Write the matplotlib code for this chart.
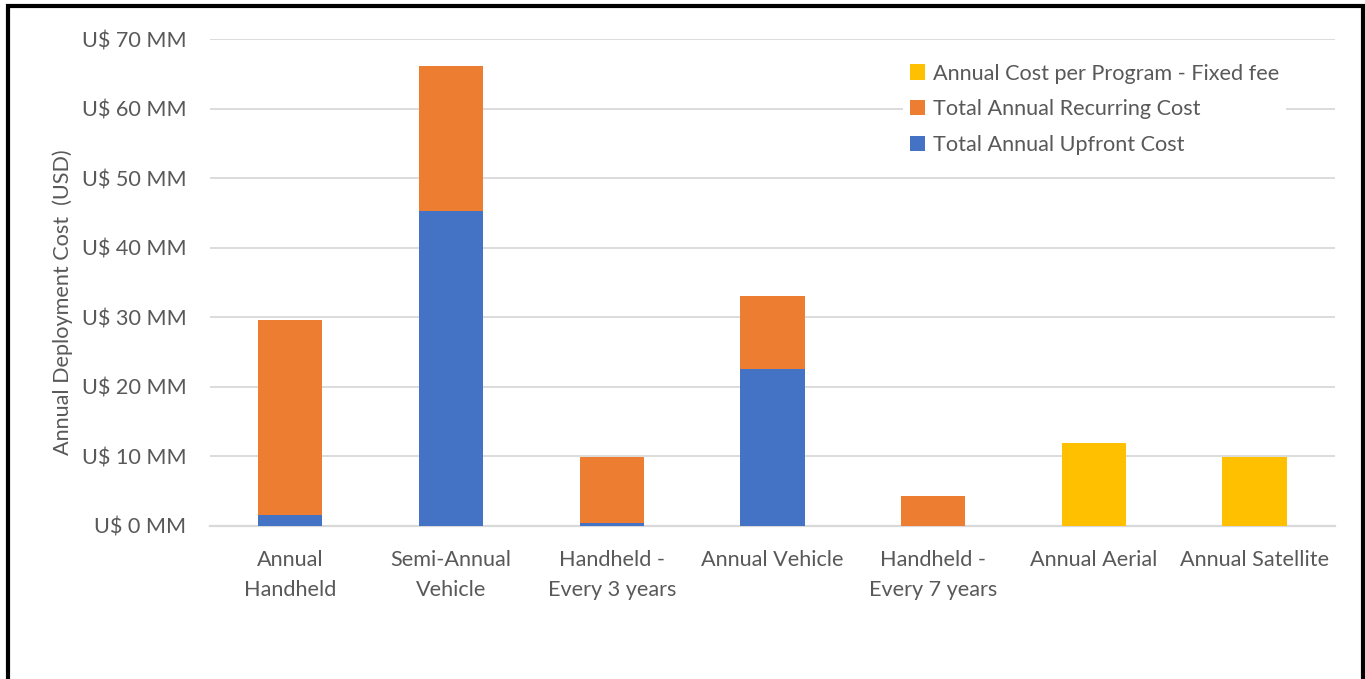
import matplotlib.pyplot as plt
from matplotlib.patches import Rectangle

categories = ['Annual\nHandheld', 'Semi-Annual\nVehicle', 'Handheld -\nEvery 3 years',
              'Annual Vehicle', 'Handheld -\nEvery 7 years', 'Annual Aerial', 'Annual Satellite']
upfront = [1.6, 45.3, 0.4, 22.6, 0.05, 0, 0]
recurring = [28.0, 20.8, 9.5, 10.4, 4.25, 0, 0]
fixed_fee = [0, 0, 0, 0, 0, 11.9, 9.95]
yticks = [0, 10, 20, 30, 40, 50, 60, 70]

text_color = '#595959'
fs = 15.6
plt.rcParams['font.family'] = ['Lato', 'DejaVu Sans']

fig = plt.figure(figsize=(13.65, 6.79), dpi=100)
ax = fig.add_axes([210 / 1365, 1 - 526 / 679, 1125 / 1365, (526 - 39) / 679])

x = range(len(categories))
w = 0.4
b1 = ax.bar(x, upfront, w, color='#4472C4', label='Total Annual Upfront Cost', zorder=3)
b2 = ax.bar(x, recurring, w, bottom=upfront, color='#ED7D31',
            label='Total Annual Recurring Cost', zorder=3)
bottoms = [u + r for u, r in zip(upfront, recurring)]
b3 = ax.bar(x, fixed_fee, w, bottom=bottoms, color='#FFC000',
            label='Annual Cost per Program - Fixed fee', zorder=3)

ax.set_xlim(-0.5, len(categories) - 0.5)
ax.set_ylim(0, 70)
ax.set_yticks(yticks)
ax.set_yticklabels(['U$ %d MM' % v for v in yticks])
ax.set_xticks(list(x))
ax.set_xticklabels(categories, linespacing=1.65)
ax.tick_params(axis='both', length=0, labelsize=fs, colors=text_color)
ax.tick_params(axis='y', pad=17)
ax.tick_params(axis='x', pad=17)

ax.grid(axis='y', color='#d9d9d9', linewidth=1.3, zorder=0)
for s in ['top', 'right', 'left']:
    ax.spines[s].set_visible(False)
ax.spines['bottom'].set_color('#d9d9d9')
ax.spines['bottom'].set_linewidth(1.6)

ax.set_ylabel('Annual Deployment Cost  (USD)', fontsize=fs, color=text_color)
ax.yaxis.set_label_coords(-137 / 1125, 0.46)

leg = ax.legend(handles=[b3, b2, b1], loc='upper left', bbox_to_anchor=(0.6065, 0.985),
                frameon=True, fancybox=False, fontsize=fs, handlelength=0.7,
                handleheight=0.7, handletextpad=0.4, labelspacing=0.72, borderpad=0.3)
leg.get_frame().set_edgecolor('none')
leg.get_frame().set_facecolor('white')
leg.get_frame().set_alpha(1)
for t in leg.get_texts():
    t.set_color(text_color)

fig.patches.append(Rectangle((8 / 1365, -0.05), (1363 - 8) / 1365, 1.05 - 6 / 679,
                             transform=fig.transFigure, fill=False,
                             edgecolor='black', linewidth=3))

fig.savefig('out.png', dpi=100)
